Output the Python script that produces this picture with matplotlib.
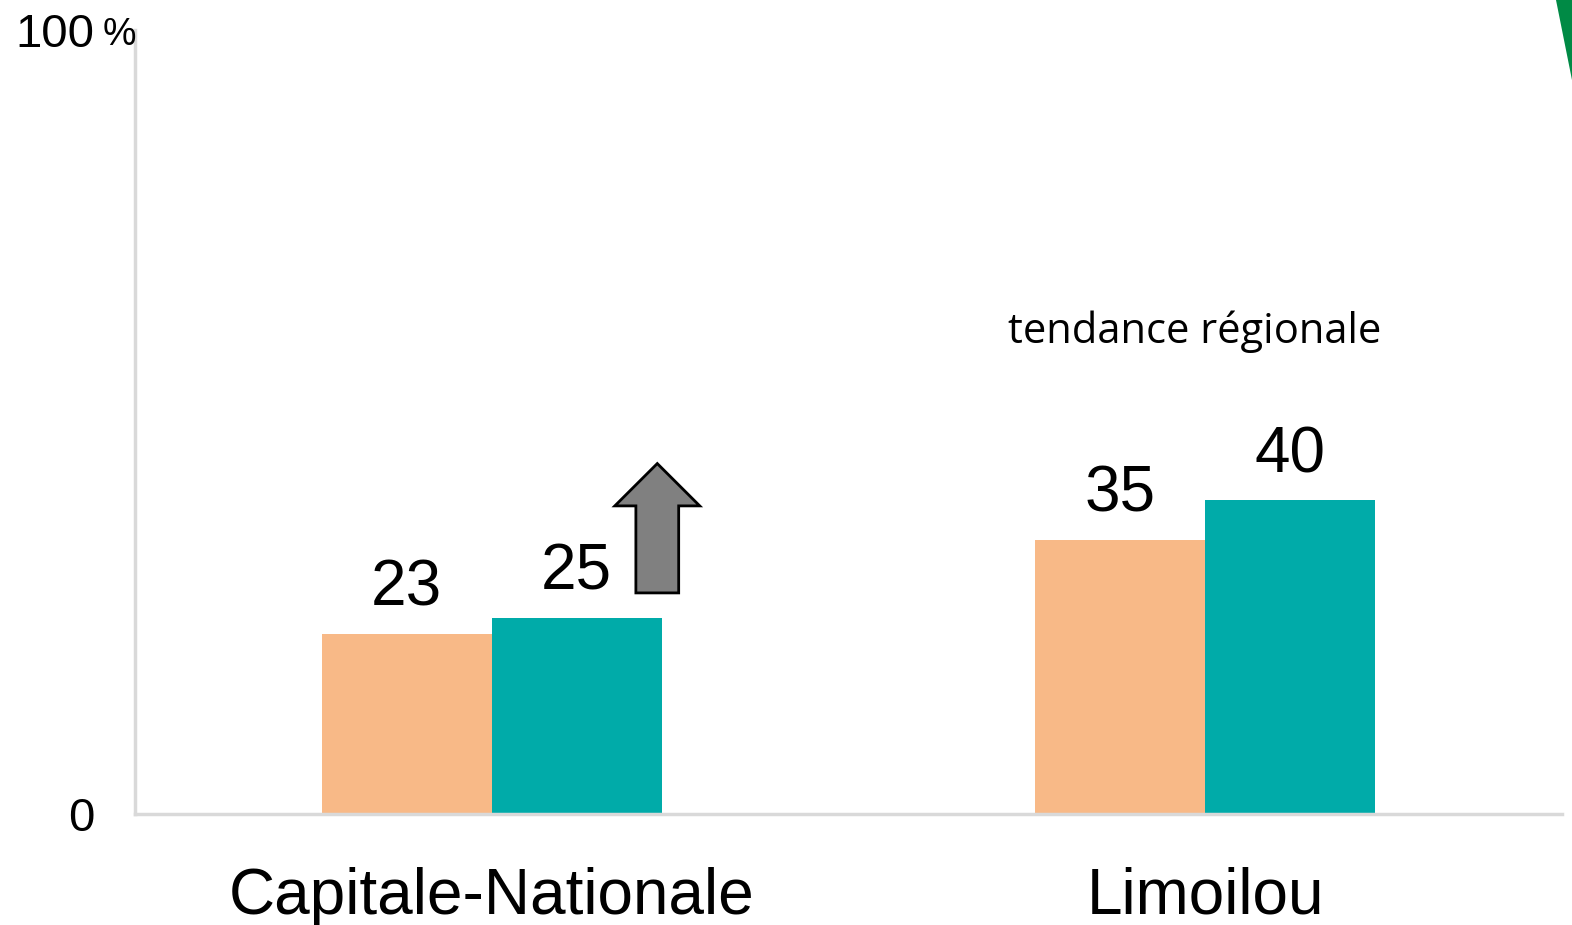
import numpy as np
import matplotlib.pyplot as plt
import matplotlib.patches as mpatches

categories = ['Capitale-Nationale', 'Limoilou']
serie_avant = [23, 35]
serie_apres = [25, 40]
ytick_labels = ['0', '100']

orange = '#f8b987'
teal = '#00aba9'
gris_axe = '#d9d9d9'

fig = plt.figure(figsize=(15.72, 9.25), dpi=100)
ax = fig.add_axes([135 / 1572, 1 - 814 / 925, (1562 - 135) / 1572, (814 - 30) / 925])

x = np.arange(len(categories))
w = 0.238
b1 = ax.bar(x - w / 2, serie_avant, w, color=orange, zorder=2)
b2 = ax.bar(x + w / 2, serie_apres, w, color=teal, zorder=2)

for bars in (b1, b2):
    for rect in bars:
        ax.annotate(f'{rect.get_height():.0f}', (rect.get_x() + rect.get_width() / 2, rect.get_height()),
                    xytext=(0, 11), textcoords='offset points', ha='center', va='bottom',
                    fontsize=46, family='Liberation Sans')

ax.set_xlim(-0.5, 1.5)
ax.set_ylim(0, 100)
ax.set_xticks(x)
ax.set_xticklabels(categories, fontsize=46, family='Liberation Sans')
ax.set_yticks([0, 100])
ax.set_yticklabels(ytick_labels, fontsize=34, family='Liberation Sans')
ax.tick_params(axis='both', length=0)
ax.tick_params(axis='y', pad=29)
ax.tick_params(axis='x', pad=38)

for s in ['top', 'right']:
    ax.spines[s].set_visible(False)
for s in ['left', 'bottom']:
    ax.spines[s].set_color(gris_axe)
    ax.spines[s].set_linewidth(2.5)

# signe % a cote du 100
ax.annotate('%', xy=(0, 1), xycoords='axes fraction', xytext=(1, -11), textcoords='offset points',
            ha='right', va='baseline', fontsize=27, family='Liberation Sans')

# fleche de hausse
arrow = mpatches.FancyArrow(0.232, 28.2, 0, 16.5, width=0.06, head_width=0.119, head_length=5.4,
                            length_includes_head=True, facecolor='#808080', edgecolor='black',
                            linewidth=2, zorder=3)
ax.add_patch(arrow)

ax.text(0.985, 61.5, 'tendance régionale', ha='center', va='center',
        fontsize=30, family='Open Sans')

# coin vert en haut a droite
tri = mpatches.Polygon([(1556 / 1572, 1.0), (1.0, 1.0), (1.0, 1 - 80 / 925)],
                       closed=True, transform=fig.transFigure, facecolor='#008a45', edgecolor='none')
fig.patches.append(tri)

fig.savefig('out.png', dpi=100)
